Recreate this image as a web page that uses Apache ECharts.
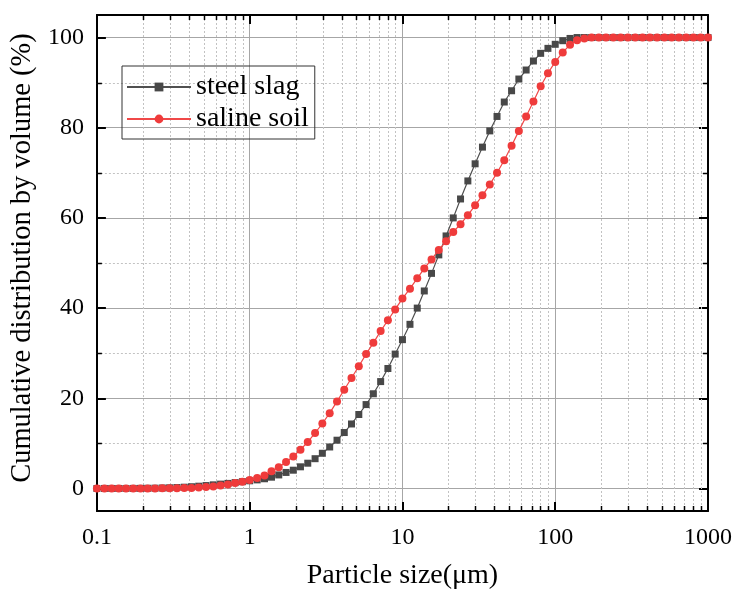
<!DOCTYPE html>
<html>
<head>
<meta charset="utf-8">
<script src="https://cdn.jsdelivr.net/npm/echarts@6/dist/echarts.min.js"></script>
<style>html,body{margin:0;padding:0;background:#fff}#main{width:735px;height:595px}</style>
</head>
<body>
<div id="main"></div>
<script type="text/javascript">
// particle sizes (um), log spaced
var sizes = [0.1, 0.112, 0.125, 0.139, 0.155, 0.173, 0.193, 0.215, 0.240, 0.268, 0.299, 0.334, 0.373, 0.416, 0.464, 0.518, 0.578, 0.645, 0.720, 0.803, 0.896,
    1, 1.12, 1.25, 1.39, 1.55, 1.73, 1.93, 2.15, 2.40, 2.68, 2.99, 3.34, 3.73, 4.16, 4.64, 5.18, 5.78, 6.45, 7.20, 8.03, 8.96,
    10, 11.2, 12.5, 13.9, 15.5, 17.3, 19.3, 21.5, 24.0, 26.8, 29.9, 33.4, 37.3, 41.6, 46.4, 51.8, 57.8, 64.5, 72.0, 80.3, 89.6,
    100, 112, 125, 139, 155, 173, 193, 215, 240, 268, 299, 334, 373, 416, 464, 518, 578, 645, 720, 803, 896,
    1000];
// cumulative volume (%)
var steelSlag = [0, 0, 0, 0, 0, 0.01, 0.02, 0.04, 0.06, 0.1, 0.14, 0.2, 0.28, 0.38, 0.5, 0.64, 0.8, 0.96, 1.12, 1.3, 1.5,
    1.7, 1.9, 2.15, 2.5, 3.0, 3.55, 4.05, 4.8, 5.6, 6.6, 7.8, 9.2, 10.7, 12.4, 14.3, 16.4, 18.6, 21.0, 23.7, 26.6, 29.8,
    33.0, 36.4, 40.0, 43.8, 47.7, 51.8, 56.0, 60.0, 64.2, 68.2, 72.0, 75.7, 79.3, 82.5, 85.7, 88.2, 90.8, 92.8, 94.8, 96.5, 97.6,
    98.5, 99.3, 99.8, 100, 100, 100, 100, 100, 100, 100, 100, 100, 100, 100, 100, 100, 100, 100, 100, 100, 100,
    100];
var salineSoil = [0, 0, 0, 0, 0, 0, 0, 0, 0, 0.02, 0.04, 0.06, 0.09, 0.12, 0.2, 0.3, 0.45, 0.65, 0.9, 1.2, 1.5,
    1.85, 2.3, 2.9, 3.8, 4.7, 5.85, 7.1, 8.6, 10.3, 12.3, 14.4, 16.7, 19.3, 21.9, 24.5, 27.1, 29.8, 32.3, 34.9, 37.3, 39.7,
    42.1, 44.3, 46.6, 48.8, 50.8, 52.9, 54.8, 56.9, 58.6, 60.6, 62.8, 65.0, 67.4, 70.0, 72.8, 76.0, 79.3, 82.5, 85.8, 89.2, 92.1,
    94.6, 96.7, 98.4, 99.4, 99.8, 100, 100, 100, 100, 100, 100, 100, 100, 100, 100, 100, 100, 100, 100, 100, 100,
    100];
var yTicks = [0, 20, 40, 60, 80, 100];
var xMinor = [0.2, 0.3, 0.4, 0.5, 0.6, 0.7, 0.8, 0.9, 2, 3, 4, 5, 6, 7, 8, 9,
    20, 30, 40, 50, 60, 70, 80, 90, 200, 300, 400, 500, 600, 700, 800, 900];
var yMinor = [10, 30, 50, 70, 90];

var font = "'Times New Roman', 'Liberation Serif', serif";

function pairs(ys) {
    var out = [];
    for (var i = 0; i < sizes.length; i++) out.push([sizes[i], ys[i]]);
    return out;
}

// dashed minor grid lines plus the short inside ticks on both edges
function minorX(params, api) {
    var cs = params.coordSys;
    var x = Math.round(api.coord([api.value(0), api.value(1)])[0]) + 0.5;
    var top = cs.y, bottom = cs.y + cs.height;
    return {type: 'group', children: [
        {type: 'line', shape: {x1: x, y1: top, x2: x, y2: bottom}, style: {stroke: '#c2c2c2', lineWidth: 1, lineDash: [2, 2]}},
        {type: 'line', shape: {x1: x, y1: bottom, x2: x, y2: bottom - 5}, style: {stroke: '#000', lineWidth: 1.5}},
        {type: 'line', shape: {x1: x, y1: top, x2: x, y2: top + 5}, style: {stroke: '#000', lineWidth: 1.5}}
    ]};
}
function minorY(params, api) {
    var cs = params.coordSys;
    var y = Math.round(api.coord([api.value(0), api.value(1)])[1]) + 0.5;
    var left = cs.x, right = cs.x + cs.width;
    return {type: 'group', children: [
        {type: 'line', shape: {x1: left, y1: y, x2: right, y2: y}, style: {stroke: '#c2c2c2', lineWidth: 1, lineDash: [2, 2]}},
        {type: 'line', shape: {x1: left, y1: y, x2: left + 5, y2: y}, style: {stroke: '#000', lineWidth: 1.5}},
        {type: 'line', shape: {x1: right, y1: y, x2: right - 5, y2: y}, style: {stroke: '#000', lineWidth: 1.5}}
    ]};
}

var myChart = echarts.init(document.getElementById('main'));

var axisLine = {show: true, onZero: false, lineStyle: {color: '#000', width: 2}};
var majorTick = {show: true, inside: true, length: 9, lineStyle: {color: '#000', width: 2}};

var option = {
    animation: false,
    backgroundColor: '#fff',
    grid: {left: 95, right: 26, top: 15, bottom: 83},
    legend: {
        data: ['steel slag', 'saline soil'],
        orient: 'vertical',
        left: 122,
        top: 66,
        padding: [7, 6, 6, 4],
        itemGap: 4,
        itemWidth: 64,
        itemHeight: 11,
        borderColor: '#333',
        borderWidth: 1,
        textStyle: {fontFamily: font, fontSize: 28, color: '#000'}
    },
    xAxis: [{
        type: 'log',
        logBase: 10,
        min: 0.1,
        max: 1000,
        position: 'bottom',
        name: 'Particle size(μm)',
        nameLocation: 'middle',
        nameGap: 51,
        nameTextStyle: {fontFamily: font, fontSize: 28, color: '#000'},
        axisLine: axisLine,
        axisTick: majorTick,
        axisLabel: {fontFamily: font, fontSize: 24, color: '#000', margin: 15,
            formatter: function (v) { return String(+v.toPrecision(3)); }},
        splitLine: {show: true, lineStyle: {color: '#a6a6a6', width: 1}}
    }, {
        type: 'log',
        logBase: 10,
        min: 0.1,
        max: 1000,
        position: 'top',
        axisLine: axisLine,
        axisTick: majorTick,
        axisLabel: {show: false},
        splitLine: {show: false}
    }],
    yAxis: [{
        type: 'value',
        min: -5,
        max: 105,
        position: 'left',
        name: 'Cumulative distribution by volume (%)',
        nameLocation: 'middle',
        nameGap: 53,
        nameTextStyle: {fontFamily: font, fontSize: 28.5, color: '#000', padding: [0, 0, 0, 10]},
        axisLine: axisLine,
        axisTick: {show: true, inside: true, length: 9, lineStyle: {color: '#000', width: 2}, customValues: yTicks},
        axisLabel: {fontFamily: font, fontSize: 24, color: '#000', margin: 13, customValues: yTicks},
        splitLine: {show: true, lineStyle: {color: '#a6a6a6', width: 1}}
    }, {
        type: 'value',
        min: -5,
        max: 105,
        position: 'right',
        axisLine: axisLine,
        axisTick: {show: true, inside: true, length: 9, lineStyle: {color: '#000', width: 2}, customValues: yTicks},
        axisLabel: {show: false, customValues: yTicks},
        splitLine: {show: false}
    }],
    series: [
        {
            type: 'custom',
            renderItem: minorX,
            silent: true,
            z: 1,
            data: xMinor.map(function (v) { return [v, 50]; })
        },
        {
            type: 'custom',
            renderItem: minorY,
            silent: true,
            z: 1,
            data: yMinor.map(function (v) { return [1, v]; })
        },
        {
            name: 'steel slag',
            type: 'line',
            z: 3,
            symbol: 'rect',
            symbolSize: 7,
            showAllSymbol: true,
            itemStyle: {color: '#484848'},
            lineStyle: {color: '#505050', width: 1.2},
            data: pairs(steelSlag)
        },
        {
            name: 'saline soil',
            type: 'line',
            z: 4,
            symbol: 'circle',
            symbolSize: 8,
            showAllSymbol: true,
            itemStyle: {color: '#ef3b3b'},
            lineStyle: {color: '#f04848', width: 1.2},
            data: pairs(salineSoil)
        }
    ]
};
myChart.setOption(option);
</script>
</body>
</html>
